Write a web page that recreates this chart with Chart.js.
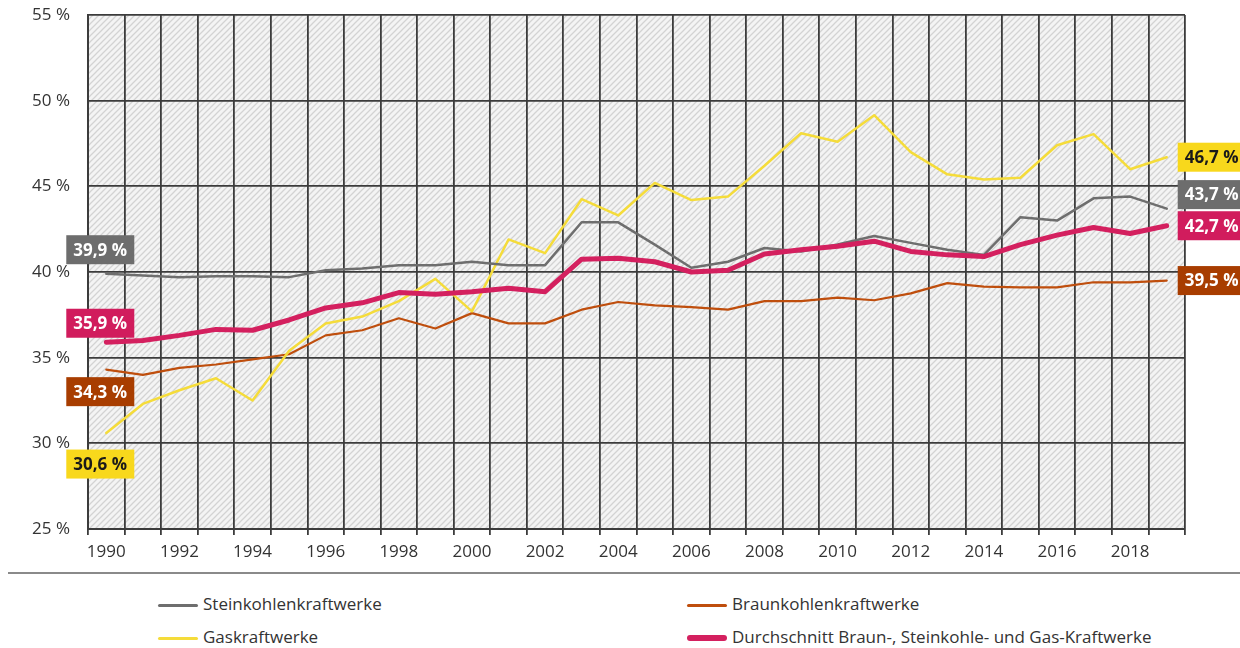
<!DOCTYPE html>
<html>
<head>
<meta charset="utf-8">
<script src="https://cdn.jsdelivr.net/npm/chart.js@4/dist/chart.umd.min.js"></script>
<style>
body { margin: 0; background: #fff; font-family: "Open Sans", sans-serif; }
#wrap { position: relative; width: 1240px; height: 648px; overflow: hidden; }
#chart { position: absolute; left: 0; top: 0; }
.sep { position: absolute; left: 8px; top: 572px; width: 1232px; height: 2px; background: #8a8a8a; }
.leg { position: absolute; font-size: 17px; color: #333; line-height: 22px; white-space: nowrap; }
.leg i { display: inline-block; width: 40px; vertical-align: middle; margin-right: 5px; border-radius: 3px; }
</style>
</head>
<body>
<div id="wrap">
  <canvas id="chart" width="1240" height="572"></canvas>
  <div class="sep"></div>
</div>
<script>
// Wirkungsgrad fossiler Kraftwerke 1990-2019
var years = [1990,1991,1992,1993,1994,1995,1996,1997,1998,1999,
             2000,2001,2002,2003,2004,2005,2006,2007,2008,2009,
             2010,2011,2012,2013,2014,2015,2016,2017,2018,2019];

var steinkohle = [39.9,39.8,39.7,39.75,39.75,39.7,40.1,40.2,40.4,40.4,
                  40.6,40.4,40.4,42.9,42.9,41.6,40.25,40.6,41.4,41.2,
                  41.6,42.1,41.7,41.3,41.0,43.2,43.0,44.3,44.4,43.7];
var braunkohle = [34.3,34.0,34.4,34.6,34.9,35.2,36.3,36.6,37.3,36.7,
                  37.6,37.0,37.0,37.8,38.25,38.05,37.95,37.8,38.3,38.3,
                  38.5,38.35,38.75,39.35,39.15,39.1,39.1,39.4,39.4,39.5];
var gas = [30.6,32.3,33.1,33.8,32.5,35.4,37.0,37.4,38.3,39.6,
           37.7,41.9,41.1,44.25,43.3,45.2,44.2,44.4,46.2,48.1,
           47.6,49.15,47.0,45.7,45.4,45.5,47.4,48.05,46.0,46.7];
var durchschnitt = [35.9,36.0,36.3,36.65,36.6,37.2,37.9,38.2,38.8,38.7,
                    38.85,39.05,38.85,40.75,40.8,40.6,40.0,40.1,41.05,41.3,
                    41.5,41.8,41.2,41.0,40.9,41.6,42.15,42.6,42.25,42.7];

var seriesNames = ['Steinkohlenkraftwerke', 'Braunkohlenkraftwerke', 'Gaskraftwerke',
                   'Durchschnitt Braun-, Steinkohle- und Gas-Kraftwerke'];
var seriesData = [steinkohle, braunkohle, gas, durchschnitt];
var lineColors = ['#6e6e6e', '#bf4e0d', '#f5dc3a', '#d4205f'];
var boxColors = ['#6d6d6d', '#a83d00', '#f8d81c', '#d11c5d'];
var boxText = ['#fff', '#fff', '#1a1a1a', '#fff'];
var lineWidths = [2.5, 2.2, 2.5, 5];
var drawOrder = [1, 3, 2, 0];
// label box offsets relative to the first / last point
var leftShift = [-24, 22, 31, -19];
var rightShift = [-14, 0, 0, 0];

function fmt(v) {
  return v.toFixed(1).replace('.', ',') + ' %';
}

var hatch = {
  id: 'hatch',
  beforeDraw: function(chart) {
    var a = chart.chartArea, ctx = chart.ctx;
    var c = document.createElement('canvas');
    c.width = 6; c.height = 6;
    var p = c.getContext('2d');
    p.fillStyle = '#f4f4f4';
    p.fillRect(0, 0, 6, 6);
    p.strokeStyle = '#d3d3d3';
    p.lineWidth = 1.3;
    p.beginPath();
    p.moveTo(-1, 7); p.lineTo(7, -1);
    p.moveTo(-1, 1); p.lineTo(1, -1);
    p.moveTo(5, 7); p.lineTo(7, 5);
    p.stroke();
    ctx.save();
    ctx.fillStyle = ctx.createPattern(c, 'repeat');
    ctx.fillRect(a.left, a.top, a.right - a.left, a.bottom - a.top);
    ctx.restore();
  }
};

function drawBox(ctx, x, y, w, txt, bg, fg) {
  var h = 29;
  ctx.fillStyle = bg;
  ctx.fillRect(x, y - h / 2, w, h);
  ctx.fillStyle = fg;
  ctx.font = 'bold 17px "Open Sans", sans-serif';
  ctx.textBaseline = 'middle';
  ctx.textAlign = 'left';
  ctx.fillText(txt, x + 7, y + 1);
}

var endLabels = {
  id: 'endLabels',
  afterDatasetsDraw: function(chart) {
    var ctx = chart.ctx;
    ctx.save();
    chart.data.datasets.forEach(function(ds, i) {
      var pts = chart.getDatasetMeta(i).data;
      var first = pts[0], last = pts[pts.length - 1];
      drawBox(ctx, first.x - 40, first.y + leftShift[i], 68, fmt(ds.data[0]), boxColors[i], boxText[i]);
      drawBox(ctx, last.x + 11, last.y + rightShift[i], 66, fmt(ds.data[ds.data.length - 1]), boxColors[i], boxText[i]);
    });
    ctx.restore();
  }
};

var datasets = seriesNames.map(function(name, i) {
  return {
    label: name,
    data: seriesData[i],
    borderColor: lineColors[i],
    backgroundColor: lineColors[i],
    borderWidth: lineWidths[i],
    pointRadius: 0,
    tension: 0,
    borderCapStyle: 'round',
    borderJoinStyle: 'round',
    order: drawOrder[i]
  };
});

Chart.defaults.font.family = '"Open Sans", sans-serif';
Chart.defaults.font.size = 17;
Chart.defaults.color = '#333';

var myChart = new Chart(document.getElementById('chart'), {
  type: 'line',
  data: { labels: years, datasets: datasets },
  options: {
    responsive: false,
    animation: false,
    layout: { autoPadding: false, padding: { top: 15, right: 55, bottom: 0, left: 0 } },
    plugins: { legend: { display: false }, tooltip: { enabled: false } },
    scales: {
      x: {
        offset: true,
        grid: { offset: true, color: '#3c3c3c', lineWidth: 1.8, tickLength: 6, tickColor: '#3c3c3c' },
        border: { color: '#3c3c3c', width: 2 },
        ticks: {
          autoSkip: false, maxRotation: 0, padding: 7, color: '#333',
          callback: function(v, i) { return i % 2 === 0 ? years[i] : ''; }
        },
        afterFit: function(scale) { scale.height = 43; }
      },
      y: {
        min: 25, max: 55,
        // invisible tick marks keep the labels away from the axis
        grid: { color: '#3c3c3c', lineWidth: 1.8, drawTicks: true, tickLength: 18, tickColor: 'rgba(0,0,0,0)' },
        border: { color: '#3c3c3c', width: 2 },
        ticks: { stepSize: 5, padding: 0, color: '#333', callback: function(v) { return v + ' %'; } },
        afterFit: function(scale) { scale.width = 88; }
      }
    }
  },
  plugins: [hatch, endLabels]
});

// legend below the separator
var legPos = [[158, 593], [687, 593], [158, 626], [687, 626]];
var wrap = document.getElementById('wrap');
seriesNames.forEach(function(name, i) {
  var d = document.createElement('div');
  d.className = 'leg';
  d.style.left = legPos[i][0] + 'px';
  d.style.top = legPos[i][1] + 'px';
  var sw = document.createElement('i');
  sw.style.height = (i === 3 ? 6 : 3) + 'px';
  sw.style.background = lineColors[i];
  d.appendChild(sw);
  d.appendChild(document.createTextNode(name));
  wrap.appendChild(d);
});
</script>
</body>
</html>
